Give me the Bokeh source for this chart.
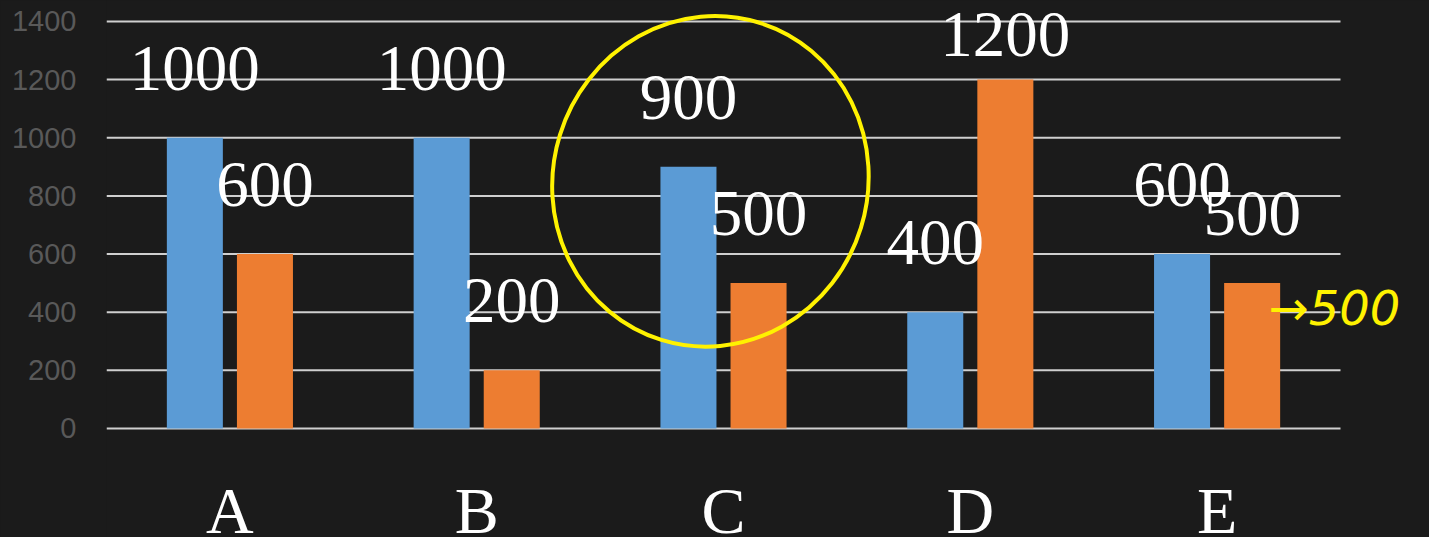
from bokeh.plotting import figure
from bokeh.models import Range1d, FixedTicker, ColumnDataSource, Label
from bokeh.transform import dodge
from bokeh.core.properties import value
from bokeh.embed import file_html
from bokeh.resources import INLINE

categories = ["A", "B", "C", "D", "E"]
series1 = [1000, 1000, 900, 400, 600]   # blue
series2 = [600, 200, 500, 1200, 500]    # orange
y_ticks = [0, 200, 400, 600, 800, 1000, 1200, 1400]

BG = "#1b1b1b"
BLUE = "#5B9BD5"
ORANGE = "#ED7D31"
YELLOW = "#FFF200"

N = len(categories)
pos = [i + 0.5 for i in range(N)]          # category centres (one unit per category)

# frame: x from px 106 to 1429 (categories span px 106..1340, 246.8 px each)
X1 = 1323 / 246.8
# frame covers full height: 0 at px 428, 1400 at px 21  -> 3.44 units / px
Y0, Y1 = -375, 1472

p = figure(width=1429, height=537, output_backend="svg", toolbar_location=None,
           x_range=Range1d(0, X1), y_range=Range1d(Y0, Y1),
           min_border_left=106, min_border_right=0, min_border_top=0, min_border_bottom=0)
p.background_fill_color = BG
p.border_fill_color = BG
p.styles = {"background-color": BG}
p.outline_line_color = None
p.xaxis.visible = False
p.xgrid.grid_line_color = None
p.ygrid.grid_line_color = None

OFF = 0.142
BW = 0.227

def label_y(v):
    return [min(x + 160, 1276) for x in v]

src = ColumnDataSource(dict(x=pos, cat=categories, s1=series1, s2=series2,
                            t1=[str(v) for v in series1], t2=[str(v) for v in series2],
                            y1=label_y(series1), y2=label_y(series2),
                            ylab=[-361] * N))

# horizontal gridlines spanning the category area only
p.segment(x0=[0] * len(y_ticks), x1=[N] * len(y_ticks), y0=y_ticks, y1=y_ticks,
          line_color="#cfcfcf", line_width=2)

p.vbar(x=dodge("x", -OFF), top="s1", width=BW, bottom=0,
       source=src, fill_color=BLUE, line_color=None)
p.vbar(x=dodge("x", OFF), top="s2", width=BW, bottom=0,
       source=src, fill_color=ORANGE, line_color=None)

for col_t, col_y, off in (("t1", "y1", -OFF), ("t2", "y2", OFF)):
    p.text(x=dodge("x", off), y=col_y, text=col_t, source=src,
           text_font=value("Liberation Serif"), text_font_size="65px",
           text_color="white", text_align="center", text_baseline="alphabetic",
           y_offset=-23)

# category labels below the zero line
p.text(x="x", y="ylab", text="cat", source=src,
       text_font=value("Liberation Serif"), text_font_size="66px",
       text_color="white", text_align="center", text_baseline="alphabetic",
       y_offset=-23)

# y axis
p.yaxis.ticker = FixedTicker(ticks=y_ticks)
p.yaxis.axis_line_color = None
p.yaxis.major_tick_line_color = None
p.yaxis.minor_tick_line_color = None
p.yaxis.major_label_standoff = 24
p.yaxis.major_label_text_font = "Liberation Sans"
p.yaxis.major_label_text_font_size = "29px"
p.yaxis.major_label_text_color = "#595959"

# hand-drawn yellow annotations
p.ellipse(x=[pos[2] - 0.053], y=[850],
          width=315, height=332, width_units="screen", height_units="screen",
          angle=-0.3, fill_color=None, line_color=YELLOW, line_width=4)
p.add_layout(Label(x=4.708, y=413, text="\u2192500", text_color=YELLOW,
                   text_font="DejaVu Sans", text_font_style="italic",
                   text_font_size="48px", text_baseline="alphabetic"))

open("out.html", "w").write(file_html(p, INLINE))
